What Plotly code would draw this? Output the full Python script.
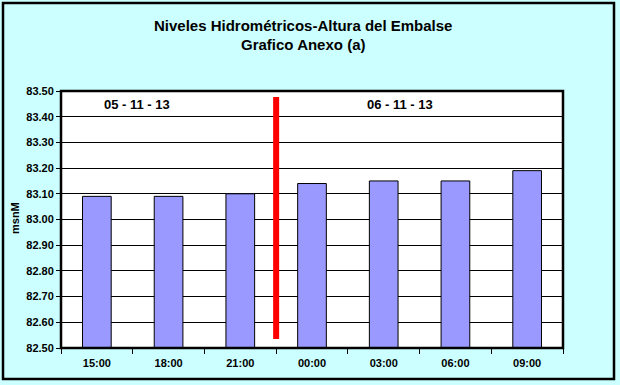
import plotly.graph_objects as go

categories = ["15:00", "18:00", "21:00", "00:00", "03:00", "06:00", "09:00"]
values = [83.09, 83.09, 83.10, 83.14, 83.15, 83.15, 83.19]
y_ticks = [82.5, 82.6, 82.7, 82.8, 82.9, 83.0, 83.1, 83.2, 83.3, 83.4, 83.5]
date_labels = ["05 - 11 - 13", "06 - 11 - 13"]
title_lines = ["Niveles Hidrométricos-Altura del Embalse", "Grafico Anexo (a)"]
y_title = "msnM"

W, H = 620, 385
L, R, T, B = 61, 563, 91, 348
pw, ph = R - L, B - T

def px(x):
    return (x - L) / pw

def py(y):
    return (B - y) / ph

FONT = "Arial, Liberation Sans, sans-serif"

fig = go.Figure()
fig.add_trace(go.Bar(
    x=categories, y=[v - 82.5 for v in values], base=82.5,
    width=0.4,
    marker=dict(color="#9999FF", line=dict(color="black", width=1)),
    hoverinfo="skip",
))

fig.update_layout(
    width=W, height=H,
    margin=dict(l=L, r=W - R, t=T, b=H - B, pad=0),
    paper_bgcolor="#CCFFFF",
    plot_bgcolor="white",
    showlegend=False,
    font=dict(family=FONT, color="black"),
    xaxis=dict(
        type="category", range=[-0.5, 6.5],
        tickson="boundaries", ticks="outside", ticklen=5, tickwidth=1, tickcolor="black",
        ticklabelstandoff=7,
        showgrid=False, showline=False, zeroline=False,
        tickfont=dict(family=FONT, size=11, color="black", weight="bold"),
    ),
    yaxis=dict(
        range=[82.5, 83.5], tickvals=y_ticks, ticktext=[f"{v:.2f}" for v in y_ticks],
        ticks="outside", ticklen=4, tickwidth=1, tickcolor="black",
        showgrid=True, gridcolor="black", gridwidth=1,
        showline=False, zeroline=False,
        tickfont=dict(family=FONT, size=11, color="black", weight="bold"),
    ),
)

# plot border
fig.add_shape(type="rect", xref="paper", yref="paper", x0=0, x1=1, y0=0, y1=1,
              line=dict(color="black", width=2.5), layer="above")
# outer chart border
fig.add_shape(type="rect", xref="paper", yref="paper",
              x0=px(3), x1=px(614), y0=py(379), y1=py(3),
              line=dict(color="black", width=2.5), layer="above")
# red separator
fig.add_shape(type="line", xref="x", yref="y", x0=2.5, x1=2.5, y0=82.535, y1=83.477,
              line=dict(color="#FF0000", width=6), layer="above")

# titles
fig.add_annotation(x=px(303), y=py(25), xref="paper", yref="paper", text=title_lines[0],
                   showarrow=False, font=dict(family=FONT, size=15, weight="bold"),
                   xanchor="center", yanchor="middle")
fig.add_annotation(x=px(303), y=py(45), xref="paper", yref="paper", text=title_lines[1],
                   showarrow=False, font=dict(family=FONT, size=15, weight="bold"),
                   xanchor="center", yanchor="middle")
# y title
fig.add_annotation(x=px(15), y=py(218), xref="paper", yref="paper", text=y_title,
                   textangle=-90, showarrow=False, font=dict(family=FONT, size=11, weight="bold"),
                   xanchor="center", yanchor="middle")
# date labels
fig.add_annotation(x=px(137), y=py(104), xref="paper", yref="paper", text=date_labels[0],
                   showarrow=False, font=dict(family=FONT, size=13, weight="bold"),
                   xanchor="center", yanchor="middle")
fig.add_annotation(x=px(400), y=py(104), xref="paper", yref="paper", text=date_labels[1],
                   showarrow=False, font=dict(family=FONT, size=13, weight="bold"),
                   xanchor="center", yanchor="middle")

fig.write_html("out.html")
